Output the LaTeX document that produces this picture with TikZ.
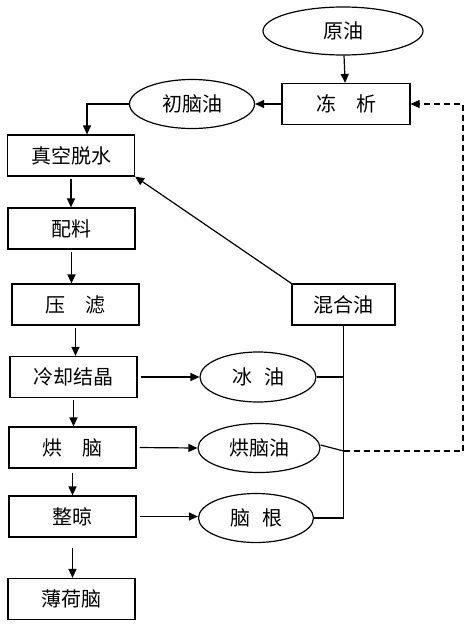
\documentclass[tikz,border=0pt]{standalone}
\usepackage{fontspec}
\setmainfont{Noto Sans CJK SC}
\usetikzlibrary{positioning,arrows.meta,shapes.geometric}

\begin{document}
\begin{tikzpicture}[x=1pt,y=-1pt,
    -{Triangle[length=9pt,width=8pt]},
    line width=1.2pt,
    font=\fontsize{20}{23}\selectfont,
    stepbox/.style={draw,rectangle,minimum width=127pt,minimum height=41pt,inner sep=0pt},
    oil/.style={draw,ellipse,inner sep=0pt}]
    \useasboundingbox (0,0) rectangle (474,627);
    \node[oil,minimum width=160pt,minimum height=48pt] (yuan) at (343,31) {原油};
    \node[stepbox,minimum width=128pt] (dong) at (346,104) {冻\quad 析};
    \node[oil,minimum width=125pt,minimum height=49pt] (chu) at (192,104) {初脑油};
    \node[stepbox] (zhen) at (71,155.5) {真空脱水};
    \node[stepbox] (pei) at (71.5,228.5) {配料};
    \node[stepbox] (ya) at (75.5,304.5) {压\quad 滤};
    \node[stepbox,minimum width=103pt] (hun) at (343.5,304.5) {混合油};
    \node[stepbox] (leng) at (73.5,377) {冷却结晶};
    \node[oil,minimum width=116pt,minimum height=50pt] (bing) at (258,377) {冰\hspace{0.6em}油};
    \node[stepbox] (hong) at (72.5,447.5) {烘\quad 脑};
    \node[oil,minimum width=122pt,minimum height=49pt] (hongyou) at (259,448) {烘脑油};
    \node[stepbox] (zheng) at (72.5,516.5) {整晾};
    \node[oil,minimum width=115pt,minimum height=49pt] (naogen) at (256,518) {脑\hspace{0.6em}根};
    \node[stepbox] (bohe) at (71.5,599) {薄荷脑};
    \coordinate (turn) at (463,451);

    \draw (yuan) -- (dong);
    \draw (dong) -- (chu);
    \draw (chu.west) -| ([xshift=16pt]zhen.north);
    \draw[shorten <=2pt] (zhen.south) -- (zhen.south |- pei.north);
    \draw[shorten <=2pt] (pei.south) -- (pei.south |- ya.north);
    \draw[shorten <=2pt] (ya.south) -- (ya.south |- leng.north);
    \draw[shorten <=2pt] (leng.south) -- (leng.south |- hong.north);
    \draw[shorten <=4pt] (hong.south) -- (hong.south |- zheng.north);
    \draw[shorten <=10pt] (zheng.south) -- (zheng.south |- bohe.north);
    \draw[shorten <=3pt] (leng.east) -- (bing.west);
    \draw[shorten <=3pt] (hong.east) -- (hongyou.west);
    \draw[shorten <=3pt] (zheng.east) -- (zheng.east -| naogen.west);
    \draw (hun.north west) -- (zhen.south east);
    \draw[-] (hun.south) |- (naogen.east);
    \draw[-] (bing.east) -- (bing.east -| hun.south);
    \draw[-] ([yshift=3pt]hongyou.east) -- (turn -| hun.south);
    \draw[dash pattern=on 6pt off 4pt] (turn -| hun.south) -- (turn) |- (dong.east);
\end{tikzpicture}
\end{document}
